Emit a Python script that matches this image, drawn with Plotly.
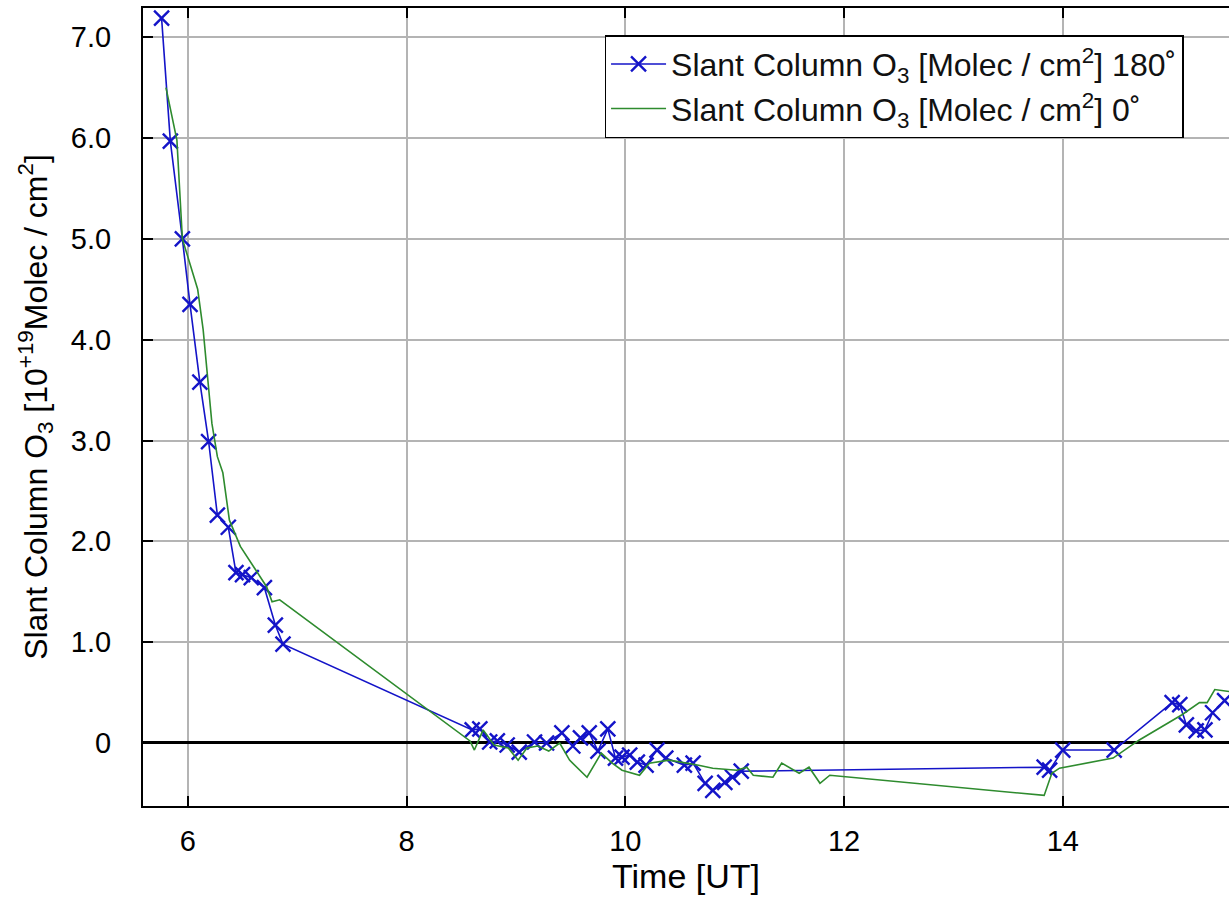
import plotly.graph_objects as go

# Slant column O3 (10^19 molec/cm^2) versus time (UT), 180° viewing direction
time_180 = [5.76, 5.84, 5.95, 6.02, 6.11, 6.19, 6.27, 6.37, 6.44, 6.50, 6.58, 6.70, 6.80, 6.87,
            8.60, 8.67, 8.76, 8.83, 8.92, 9.03, 9.17, 9.28, 9.42, 9.52, 9.59, 9.67, 9.75, 9.84,
            9.91, 9.97, 10.04, 10.11, 10.19, 10.29, 10.37, 10.54, 10.62, 10.73, 10.80, 10.91,
            10.98, 11.06, 13.83, 13.88, 14.00, 14.47, 15.00, 15.07, 15.13, 15.22, 15.30, 15.37, 15.48]
sc_180 = [7.19, 5.97, 5.00, 4.35, 3.58, 2.99, 2.26, 2.14, 1.69, 1.67, 1.64, 1.54, 1.17, 0.98,
          0.13, 0.14, 0.01, 0.02, -0.02, -0.09, 0.01, 0.00, 0.10, -0.03, 0.05, 0.10, -0.08, 0.14,
          -0.15, -0.14, -0.12, -0.19, -0.22, -0.07, -0.15, -0.22, -0.20, -0.40, -0.47, -0.39,
          -0.34, -0.28, -0.24, -0.27, -0.07, -0.07, 0.40, 0.38, 0.18, 0.12, 0.13, 0.30, 0.42]

# Same quantity, 0° viewing direction
time_0 = [5.80, 5.90, 5.95, 6.06, 6.09, 6.14, 6.18, 6.22, 6.27, 6.32, 6.38, 6.48, 6.60, 6.72,
          6.77, 6.84, 8.58, 8.62, 8.70, 8.80, 8.93, 9.02, 9.10, 9.20, 9.30, 9.40, 9.49, 9.65,
          9.78, 9.88, 9.97, 10.13, 10.22, 10.40, 10.67, 10.80, 11.02, 11.11, 11.17, 11.35,
          11.43, 11.59, 11.68, 11.78, 11.87, 13.83, 13.90, 13.97, 14.46, 14.70, 15.09, 15.25,
          15.32, 15.39, 15.52]
sc_0 = [6.50, 5.98, 5.00, 4.60, 4.50, 4.10, 3.67, 3.17, 2.84, 2.68, 2.21, 1.95, 1.75, 1.55,
        1.40, 1.42, 0.02, -0.07, 0.13, -0.02, -0.05, -0.17, -0.05, -0.03, -0.08, 0.00, -0.17,
        -0.34, -0.10, -0.20, -0.27, -0.32, -0.20, -0.17, -0.22, -0.25, -0.27, -0.24, -0.32,
        -0.34, -0.20, -0.30, -0.24, -0.40, -0.32, -0.52, -0.30, -0.25, -0.15, 0.03, 0.28, 0.40,
        0.40, 0.53, 0.51]

x_ticks = [6, 8, 10, 12, 14]
y_ticks = [0, 1, 2, 3, 4, 5, 6, 7]
y_tick_labels = ["0", "1.0", "2.0", "3.0", "4.0", "5.0", "6.0", "7.0"]

BLUE = "#1414c8"
GREEN = "#2e8b2e"
FONT = "Liberation Sans"

fig = go.Figure()
fig.add_trace(go.Scatter(
    x=time_180, y=sc_180, mode="lines+markers",
    name="Slant Column O<sub>3</sub> [Molec / cm<sup>2</sup>] 180˚",
    line=dict(color=BLUE, width=1.6),
    marker=dict(symbol="x-thin", size=15, line=dict(color=BLUE, width=2.4)),
))
fig.add_trace(go.Scatter(
    x=time_0, y=sc_0, mode="lines",
    name="Slant Column O<sub>3</sub> [Molec / cm<sup>2</sup>] 0˚",
    line=dict(color=GREEN, width=1.6),
))

fig.update_layout(
    width=1229, height=898,
    margin=dict(l=143, r=0, t=8, b=92, autoexpand=False),
    paper_bgcolor="white", plot_bgcolor="white",
    font=dict(family=FONT, size=29, color="black"),
    showlegend=True,
    legend=dict(
        x=0.425, y=0.966, xanchor="left", yanchor="top",
        bgcolor="white", bordercolor="black", borderwidth=1.5,
        font=dict(family=FONT, size=32, color="#111111"),
        itemwidth=55, tracegroupgap=0,
    ),
)

fig.update_xaxes(
    range=[5.59, 15.52], tickvals=x_ticks, ticks="inside", ticklen=10, tickwidth=2,
    tickcolor="black", showline=True, linecolor="black", linewidth=2, mirror="ticks",
    showgrid=True, gridcolor="#b4b4b4", gridwidth=2, zeroline=False,
    tickfont=dict(family=FONT, size=29), ticklabelstandoff=8,
    title=dict(text="Time [UT]", font=dict(family=FONT, size=34), standoff=6),
    automargin=False,
)
fig.update_yaxes(
    range=[-0.625, 7.29], tickvals=y_ticks, ticktext=y_tick_labels, ticks="inside",
    ticklen=10, tickwidth=2, tickcolor="black", showline=True, linecolor="black",
    linewidth=2, mirror=False, showgrid=True, gridcolor="#b4b4b4", gridwidth=2,
    zeroline=True, zerolinecolor="black", zerolinewidth=2.5,
    tickfont=dict(family=FONT, size=29), ticklabelstandoff=24,
    title=dict(text="Slant Column O<sub>3</sub> [10<sup>+19</sup>Molec / cm<sup>2</sup>]",
               font=dict(family=FONT, size=32), standoff=14),
    automargin=False,
)

fig.write_html("out.html")
